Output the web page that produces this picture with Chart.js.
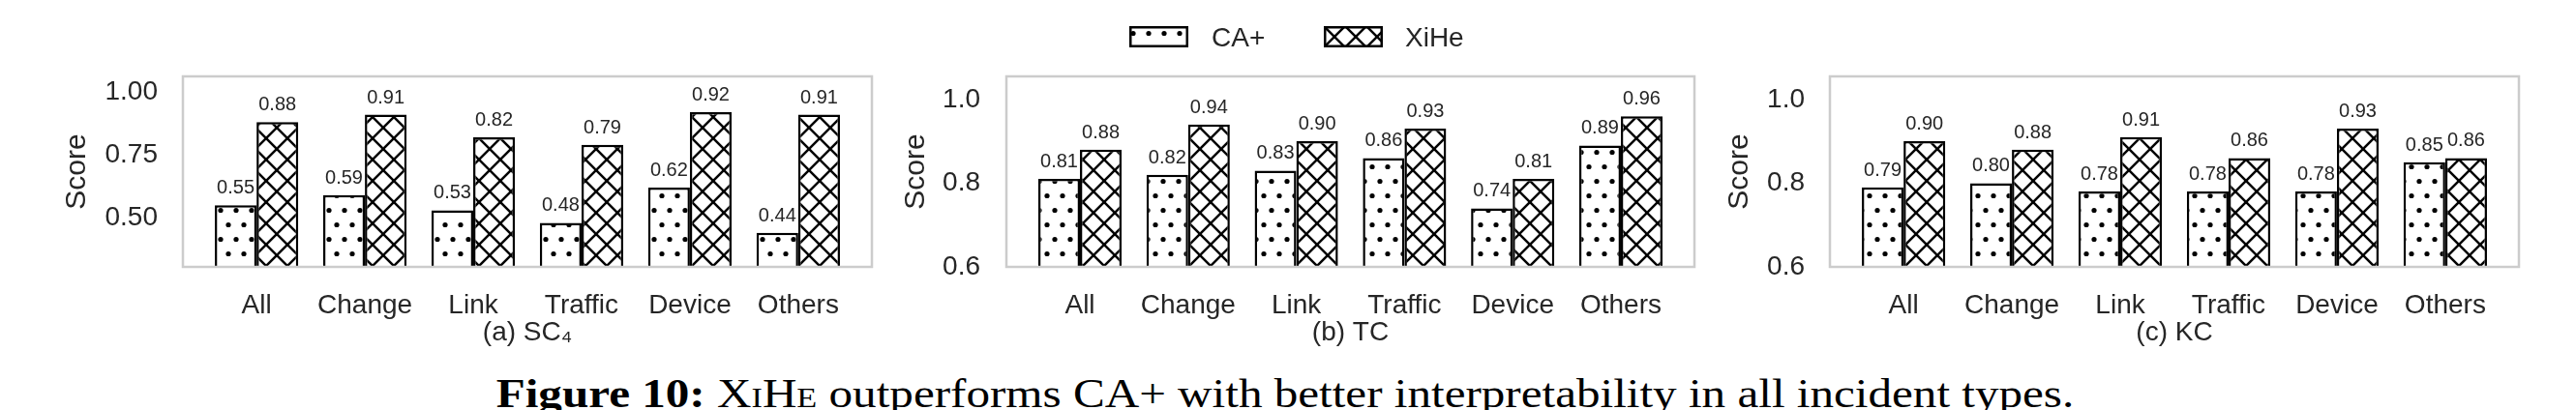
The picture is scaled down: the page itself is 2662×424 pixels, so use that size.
<!DOCTYPE html>
<html>
<head>
<meta charset="utf-8">
<script src="https://cdn.jsdelivr.net/npm/chart.js@4.4.1/dist/chart.umd.min.js"></script>
<style>
  html, body { margin: 0; padding: 0; background: #fff; }
  body { width: 2662px; height: 424px; position: relative; overflow: hidden;
         font-family: "Liberation Sans", Arial, sans-serif; color: #262626; }
  .panel { position: absolute; top: 0; height: 370px; }
  .swatch { position: absolute; }
  .legtext { position: absolute; font-size: 28px; line-height: 28px; white-space: nowrap; }
  #caption { position: absolute; left: 1328px; top: 385px; font-family: "Liberation Serif", serif;
             font-size: 43px; line-height: 43px; color: #000; white-space: nowrap;
             transform-origin: center top; }
  #caption .sc { font-variant: small-caps; }
</style>
</head>
<body>

<div class="panel" style="left:0;width:910px"><canvas id="c1"></canvas></div>
<div class="panel" style="left:910px;width:850px"><canvas id="c2"></canvas></div>
<div class="panel" style="left:1760px;width:902px"><canvas id="c3"></canvas></div>

<canvas class="swatch" id="sw0" width="61" height="22" style="left:1167px;top:27px"></canvas>
<div class="legtext" id="lt0" style="left:1252px;top:25px"></div>
<canvas class="swatch" id="sw1" width="61" height="22" style="left:1368px;top:27px"></canvas>
<div class="legtext" id="lt1" style="left:1452px;top:25px"></div>

<div id="caption"><b>Figure 10:</b> <span class="sc">XiHe</span> outperforms CA+ with better interpretability in all incident types.</div>

<script>
// ---------------------------------------------------------------------
// data
// ---------------------------------------------------------------------
const categories = ["All", "Change", "Link", "Traffic", "Device", "Others"];
const seriesNames = ["CA+", "XiHe"];

const caSC4   = [0.55, 0.59, 0.53, 0.48, 0.62, 0.44];
const xiheSC4 = [0.88, 0.91, 0.82, 0.79, 0.92, 0.91];

const caTC    = [0.81, 0.82, 0.83, 0.86, 0.74, 0.89];
const xiheTC  = [0.88, 0.94, 0.90, 0.93, 0.81, 0.96];

const caKC    = [0.79, 0.80, 0.78, 0.78, 0.78, 0.85];
const xiheKC  = [0.90, 0.88, 0.91, 0.86, 0.93, 0.86];

const yTicksSC4 = [0.50, 0.75, 1.00];
const yTickLabelsSC4 = ["0.50", "0.75", "1.00"];
const yTicksTC = [0.6, 0.8, 1.0];
const yTickLabelsTC = ["0.6", "0.8", "1.0"];
const yTicksKC = [0.6, 0.8, 1.0];
const yTickLabelsKC = ["0.6", "0.8", "1.0"];

const panelTitles = ["(a) SC\u2084", "(b) TC", "(c) KC"];
const yTitle = "Score";

// ---------------------------------------------------------------------
// hatch patterns
// ---------------------------------------------------------------------
function dotPattern() {
  const c = document.createElement("canvas");
  c.width = 16; c.height = 30;
  const g = c.getContext("2d");
  g.fillStyle = "#fff"; g.fillRect(0, 0, 16, 30);
  g.fillStyle = "#000";
  [[4, 7.5], [12, 22.5]].forEach(([x, y]) => {
    g.beginPath(); g.arc(x, y, 2.6, 0, Math.PI * 2); g.fill();
  });
  return g.createPattern(c, "repeat");
}

function crossPattern() {
  const s = 22;
  const c = document.createElement("canvas");
  c.width = s; c.height = s;
  const g = c.getContext("2d");
  g.fillStyle = "#fff"; g.fillRect(0, 0, s, s);
  g.strokeStyle = "#000"; g.lineWidth = 2.5;
  for (const o of [-s, 0, s]) {
    g.beginPath(); g.moveTo(o, 0); g.lineTo(o + s, s); g.stroke();
    g.beginPath(); g.moveTo(o + s, 0); g.lineTo(o, s); g.stroke();
  }
  return g.createPattern(c, "repeat");
}

const patterns = [dotPattern(), crossPattern()];

// ---------------------------------------------------------------------
// plugins: value labels + light grey frame
// ---------------------------------------------------------------------
const valueLabels = {
  id: "valueLabels",
  afterDatasetsDraw(chart) {
    const ctx = chart.ctx;
    ctx.save();
    ctx.font = '20px "Liberation Sans", Arial, sans-serif';
    ctx.fillStyle = "#262626";
    ctx.textAlign = "center";
    ctx.textBaseline = "alphabetic";
    chart.data.datasets.forEach((ds, i) => {
      chart.getDatasetMeta(i).data.forEach((bar, j) => {
        ctx.fillText(ds.data[j].y.toFixed(2), bar.x, bar.y - 12);
      });
    });
    const a = chart.chartArea;
    ctx.strokeStyle = "#cccccc";
    ctx.lineWidth = 2.5;
    ctx.strokeRect(a.left, a.top, a.right - a.left, a.bottom - a.top);
    ctx.restore();
  }
};

Chart.defaults.font.family = '"Liberation Sans", Arial, sans-serif';
Chart.defaults.color = "#262626";

// ---------------------------------------------------------------------
// panels
// ---------------------------------------------------------------------
function drawPanel(id, ca, xihe, yMin, yMax, yTicks, yTickLabels, title, lay) {
  new Chart(document.getElementById(id), {
    type: "bar",
    data: {
      datasets: [ca, xihe].map((vals, k) => ({
        label: seriesNames[k],
        data: vals.map((v, i) => ({ x: i, y: v })),
        backgroundColor: patterns[k],
        borderColor: "#000",
        borderWidth: 2.5,
        borderSkipped: "start",
        categoryPercentage: 0.77,
        barPercentage: 1.0,
        clip: 0
      }))
    },
    options: {
      responsive: true,
      maintainAspectRatio: false,
      animation: false,
      layout: { padding: { left: 0, right: lay.padRight, top: 79, bottom: 0 } },
      plugins: { legend: { display: false }, tooltip: { enabled: false } },
      scales: {
        x: {
          type: "linear",
          offset: false,
          min: -0.68, max: 5.68,
          grid: { display: false, drawTicks: false },
          border: { display: false },
          afterBuildTicks: s => { s.ticks = categories.map((_, i) => ({ value: i })); },
          afterFit: s => { s.height = 94; },
          ticks: {
            padding: 23,
            autoSkip: false,
            maxRotation: 0,
            font: { size: 28 },
            callback: v => categories[v]
          },
          title: { display: true, text: title, font: { size: 28 }, padding: { top: 0, bottom: 9 } }
        },
        y: {
          min: yMin, max: yMax,
          grid: { display: false, drawTicks: false },
          border: { display: false },
          afterBuildTicks: s => { s.ticks = yTicks.map(v => ({ value: v })); },
          afterFit: s => { s.width = lay.yWidth; },
          ticks: {
            padding: lay.tickPad,
            font: { size: 28 },
            callback: v => yTickLabels[yTicks.indexOf(v)]
          },
          title: { display: true, text: yTitle, font: { size: 30 }, padding: { top: lay.titlePad, bottom: 0 } }
        }
      }
    },
    plugins: [valueLabels]
  });
}

drawPanel("c1", caSC4, xiheSC4, 0.305, 1.062, yTicksSC4, yTickLabelsSC4, panelTitles[0],
  { yWidth: 189, padRight: 9, tickPad: 26, titlePad: 62 });
drawPanel("c2", caTC, xiheTC, 0.6, 1.055, yTicksTC, yTickLabelsTC, panelTitles[1],
  { yWidth: 130, padRight: 9, tickPad: 27, titlePad: 19 });
drawPanel("c3", caKC, xiheKC, 0.6, 1.055, yTicksKC, yTickLabelsKC, panelTitles[2],
  { yWidth: 131, padRight: 59, tickPad: 26, titlePad: 20 });

// ---------------------------------------------------------------------
// legend (shared) + caption fit
// ---------------------------------------------------------------------
seriesNames.forEach((name, k) => {
  const g = document.getElementById("sw" + k).getContext("2d");
  g.fillStyle = patterns[k];
  g.fillRect(0, 0, 61, 22);
  g.strokeStyle = "#000"; g.lineWidth = 2.5;
  g.strokeRect(1.25, 1.25, 58.5, 19.5);
  document.getElementById("lt" + k).textContent = name;
});

const cap = document.getElementById("caption");
const k = 1630 / cap.offsetWidth;
cap.style.transform = "translateX(-50%) scaleX(" + k + ")";
</script>
</body>
</html>
